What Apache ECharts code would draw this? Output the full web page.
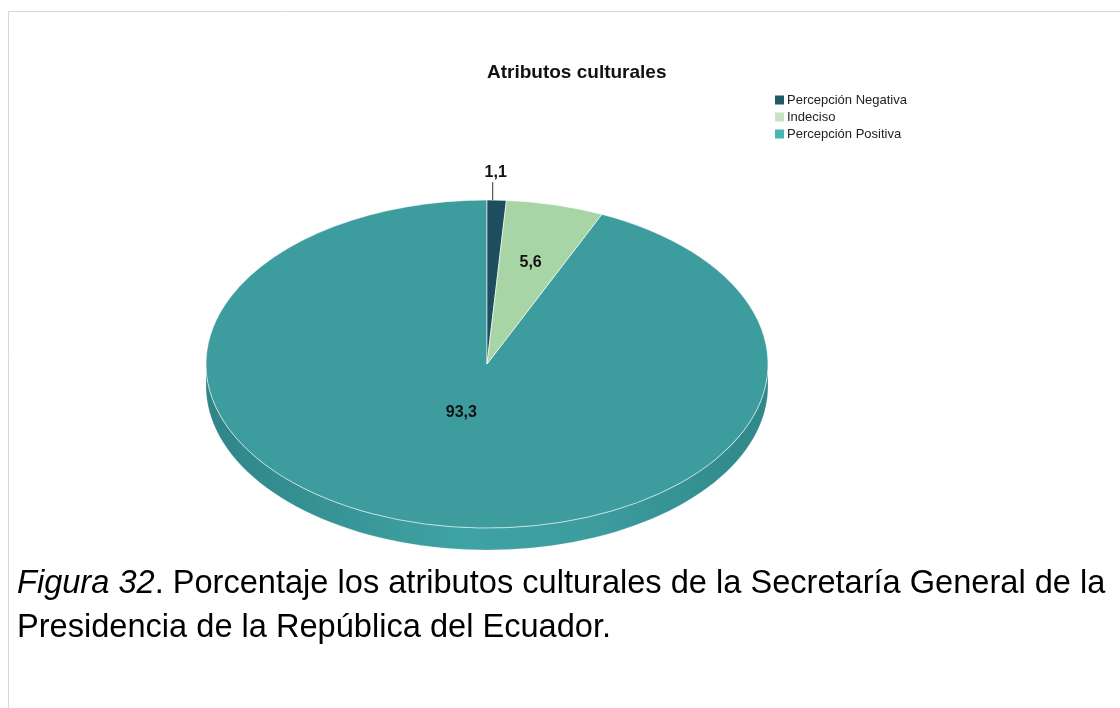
<!DOCTYPE html>
<html>
<head>
<meta charset="utf-8">
<title>Atributos culturales</title>
<script src="https://cdn.jsdelivr.net/npm/echarts@6/dist/echarts.min.js"></script>
<style>
  html, body { margin: 0; padding: 0; background: #ffffff; }
  #chart { width: 1120px; height: 708px; }
</style>
</head>
<body>
<div id="chart"></div>
<script>
// Survey shares (%), one slice per perception category
const categories = ['Percepción Negativa', 'Indeciso', 'Percepción Positiva'];
const values = [1.1, 5.6, 93.3];

// Slice fills on the pie top, and the brighter swatches used in the legend
const pieColors = ['#1c4e60', '#a8d5a6', '#3d9c9e'];
const legendColors = ['#1d5b66', '#c6e4c0', '#45b6b5'];

const titleText = 'Atributos culturales';
const captionLine1 = '{i|Figura 32}. Porcentaje los atributos culturales de la Secretaría General de la';
const captionLine2 = 'Presidencia de la República del Ecuador.';

// Pie geometry: elliptical top face with a thin slab underneath
const cx = 487, cy = 364, rx = 281, ry = 164, depth = 22;
const FONT = '"Liberation Sans", Arial, Helvetica, sans-serif';
const CAPTION_SIZE = 32.6;

const total = values.reduce((a, b) => a + b, 0);

function formatValue(v) {
  return String(v).replace('.', ',');
}

function ellipsePoint(angle, k, dy) {
  return [cx + k * rx * Math.cos(angle), cy + k * ry * Math.sin(angle) + (dy || 0)];
}

// Front wall of the slab for the part of a slice that faces the viewer (0..PI in screen angles)
function sideWall(s, e) {
  const parts = [];
  [[0, Math.PI], [2 * Math.PI, 3 * Math.PI]].forEach(function (r) {
    const lo = Math.max(s, r[0]);
    const hi = Math.min(e, r[1]);
    if (hi > lo) {
      const top = [], bottom = [];
      const steps = 80;
      for (let j = 0; j <= steps; j++) {
        const a = lo + (hi - lo) * j / steps;
        top.push(ellipsePoint(a, 1, 0));
        bottom.push(ellipsePoint(a, 1, depth));
      }
      parts.push({
        type: 'polygon',
        shape: { points: top.concat(bottom.reverse()) },
        style: {
          fill: {
            type: 'linear', x: 0, y: 0, x2: 1, y2: 0,
            colorStops: [
              { offset: 0, color: '#2f8587' },
              { offset: 0.45, color: '#3fa2a4' },
              { offset: 0.7, color: '#3c9c9e' },
              { offset: 1, color: '#2f8789' }
            ]
          },
          stroke: 'rgba(255,255,255,0.25)',
          lineWidth: 0.8
        }
      });
    }
  });
  return parts;
}

function sliceRenderer(i) {
  return function (params, api) {
    const v = api.value(0);
    const before = values.slice(0, i).reduce((a, b) => a + b, 0);
    const s = -Math.PI / 2 + 2 * Math.PI * before / total;
    const e = s + 2 * Math.PI * v / total;
    const mid = (s + e) / 2;
    const children = sideWall(s, e);

    children.push({
      type: 'group',
      x: cx,
      y: cy,
      scaleY: ry / rx,
      children: [{
        type: 'sector',
        shape: { cx: 0, cy: 0, r: rx, r0: 0, startAngle: s, endAngle: e, clockwise: true },
        style: { fill: pieColors[i], stroke: 'rgba(255,255,255,0.75)', lineWidth: 1, strokeNoScale: true }
      }]
    });

    const share = v / total;
    const labelStyle = {
      text: formatValue(v),
      font: 'bold 16px ' + FONT,
      fill: '#111111',
      align: 'center',
      verticalAlign: 'middle'
    };
    if (share < 0.03) {
      // thin slice: label sits above the rim with a short leader
      const p = ellipsePoint(mid, 1, 0);
      children.push({
        type: 'line',
        shape: { x1: p[0] - 4, y1: p[1], x2: p[0] - 4, y2: p[1] - 18 },
        style: { stroke: '#333333', lineWidth: 1 }
      });
      children.push({ type: 'text', x: p[0] - 1, y: p[1] - 28, style: labelStyle });
    } else {
      const k = share > 0.5 ? 0.3 : 0.64;
      const p = ellipsePoint(mid, k, 0);
      children.push({ type: 'text', x: p[0] - (share > 0.5 ? 8 : 0), y: p[1], style: labelStyle });
    }
    return { type: 'group', children: children };
  };
}

const series = categories.map(function (name, i) {
  return {
    type: 'custom',
    name: name,
    coordinateSystem: 'none',
    itemStyle: { color: legendColors[i] },
    data: [values[i]],
    renderItem: sliceRenderer(i),
    z: i === 2 ? 2 : 3
  };
});

const chart = echarts.init(document.getElementById('chart'), null, { renderer: 'canvas' });
chart.setOption({
  animation: false,
  backgroundColor: '#ffffff',
  title: {
    text: titleText,
    left: 487,
    top: 63,
    padding: 0,
    textStyle: { fontFamily: FONT, fontSize: 19, fontWeight: 'bold', color: '#111111' }
  },
  legend: {
    orient: 'vertical',
    left: 775,
    top: 93,
    padding: 0,
    itemGap: 3,
    itemWidth: 9,
    itemHeight: 9,
    icon: 'rect',
    data: categories,
    textStyle: { fontFamily: FONT, fontSize: 13, color: '#222222', padding: [0, 0, 0, -2], lineHeight: 14 }
  },
  graphic: [
    {
      type: 'polyline',
      shape: { points: [[8.5, 708], [8.5, 11.5], [1120, 11.5]] },
      style: { stroke: '#d8d8d8', lineWidth: 1, fill: null },
      silent: true
    },
    {
      type: 'text',
      x: 17,
      y: 584,
      style: {
        text: captionLine1,
        fontFamily: FONT,
        fontSize: CAPTION_SIZE,
        fill: '#000000',
        verticalAlign: 'middle',
        rich: { i: { fontStyle: 'italic', fontFamily: FONT, fontSize: CAPTION_SIZE, fill: '#000000' } }
      },
      silent: true
    },
    {
      type: 'text',
      x: 17,
      y: 628,
      style: {
        text: captionLine2,
        fontFamily: FONT,
        fontSize: CAPTION_SIZE,
        fill: '#000000',
        verticalAlign: 'middle'
      },
      silent: true
    }
  ],
  series: series
});
</script>
</body>
</html>
